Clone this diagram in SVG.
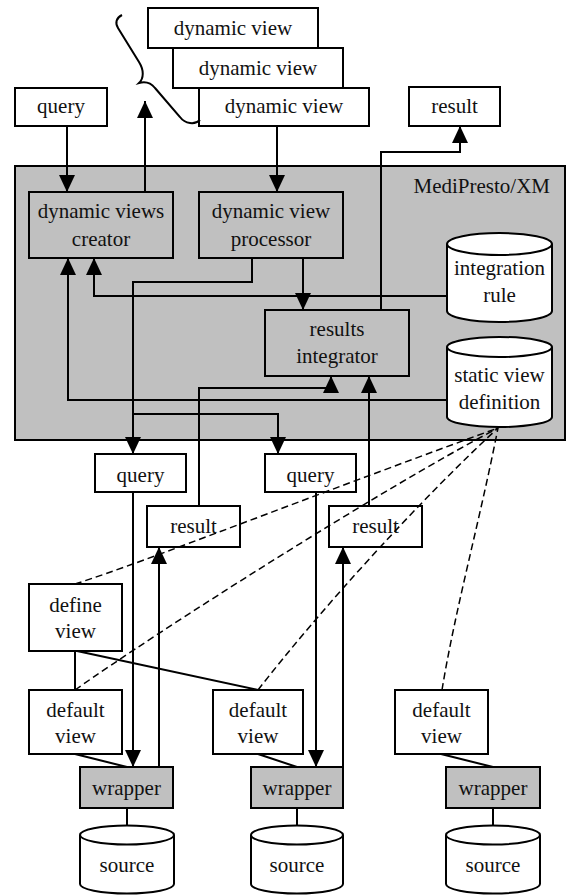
<svg xmlns="http://www.w3.org/2000/svg" width="568" height="895" viewBox="0 0 568 895">
<defs>
<marker id="ah" viewBox="0 0 17 16" refX="17" refY="8" markerWidth="17" markerHeight="16" markerUnits="userSpaceOnUse" orient="auto">
<path d="M0,0 L17,8 L0,16 z" fill="#000"/>
</marker>
</defs>
<style>
.box{fill:#fff;stroke:#000;stroke-width:2}
.gbox{fill:#c0c0c0;stroke:#000;stroke-width:2}
.t{font-family:"Liberation Serif","Times New Roman",serif;font-size:21px;fill:#111;text-anchor:middle}
.ln{fill:none;stroke:#000;stroke-width:2}
.arr{marker-end:url(#ah)}
.dash{fill:none;stroke:#000;stroke-width:1.5;stroke-dasharray:7 4}
</style>
<rect width="568" height="895" fill="#fff"/>

<g id="medipresto">
<rect class="gbox" x="15" y="166" width="550" height="274"/>
<text class="t" x="550" y="193" style="text-anchor:end">MediPresto/XM</text>
</g>

<g id="dv1"><rect class="box" x="148" y="8" width="170" height="40"/><text class="t" x="233" y="35">dynamic view</text></g>
<g id="dv2"><rect class="box" x="173" y="48" width="170" height="40"/><text class="t" x="258" y="75">dynamic view</text></g>
<g id="dv3"><rect class="box" x="199" y="88" width="170" height="38"/><text class="t" x="284" y="113">dynamic view</text></g>

<g id="query-top"><rect class="box" x="15" y="88" width="92" height="38"/><text class="t" x="61" y="113">query</text></g>
<g id="result-top"><rect class="box" x="409" y="87" width="91" height="39"/><text class="t" x="454.5" y="113">result</text></g>

<g id="creator"><rect class="gbox" x="29" y="192" width="144" height="66"/><text class="t" x="101" y="218">dynamic views</text><text class="t" x="101" y="246">creator</text></g>
<g id="processor"><rect class="gbox" x="199" y="192" width="144" height="66"/><text class="t" x="271" y="218">dynamic view</text><text class="t" x="271" y="246">processor</text></g>
<g id="integrator"><rect class="gbox" x="265" y="310" width="144" height="66"/><text class="t" x="337" y="336">results</text><text class="t" x="337" y="363">integrator</text></g>

<g id="integration-rule">
<path class="box" d="M447,244 L447,311 A52.5,11 0 0 0 552,311 L552,244"/>
<ellipse class="box" cx="499.5" cy="244" rx="52.5" ry="11"/>
<text class="t" x="499.5" y="275">integration</text><text class="t" x="499.5" y="302">rule</text>
</g>
<g id="static-view">
<path class="box" d="M447,347 L447,417 A52.5,10 0 0 0 552,417 L552,347"/>
<ellipse class="box" cx="499.5" cy="347" rx="52.5" ry="10"/>
<text class="t" x="499.5" y="382">static view</text><text class="t" x="499.5" y="409">definition</text>
</g>

<g id="query1"><rect class="box" x="95" y="454" width="91" height="38"/><text class="t" x="140.5" y="482">query</text></g>
<g id="query2"><rect class="box" x="265" y="454" width="91" height="38"/><text class="t" x="310.5" y="482">query</text></g>
<g id="result1"><rect class="box" x="147" y="506" width="93" height="41"/><text class="t" x="193.5" y="533">result</text></g>
<g id="result2"><rect class="box" x="329" y="506" width="93" height="41"/><text class="t" x="375.5" y="533">result</text></g>

<g id="define-view"><rect class="box" x="29" y="584" width="93" height="67"/><text class="t" x="75.5" y="612">define</text><text class="t" x="75.5" y="638">view</text></g>
<g id="default1"><rect class="box" x="29" y="690" width="93" height="64"/><text class="t" x="75.5" y="717">default</text><text class="t" x="75.5" y="743">view</text></g>
<g id="default2"><rect class="box" x="213" y="690" width="90" height="64"/><text class="t" x="258" y="717">default</text><text class="t" x="258" y="743">view</text></g>
<g id="default3"><rect class="box" x="395" y="690" width="93" height="64"/><text class="t" x="441.5" y="717">default</text><text class="t" x="441.5" y="743">view</text></g>

<g id="wrapper1"><rect class="gbox" x="80" y="767" width="93" height="41"/><text class="t" x="126.5" y="795">wrapper</text></g>
<g id="wrapper2"><rect class="gbox" x="251" y="767" width="92" height="41"/><text class="t" x="297" y="795">wrapper</text></g>
<g id="wrapper3"><rect class="gbox" x="446" y="767" width="94" height="41"/><text class="t" x="493" y="795">wrapper</text></g>

<g id="source1"><path class="box" d="M80,835 L80,884 A47,9.5 0 0 0 174,884 L174,835"/><ellipse class="box" cx="127" cy="835" rx="47" ry="9.5"/><text class="t" x="127" y="872">source</text></g>
<g id="source2"><path class="box" d="M251,835 L251,884 A46,9.5 0 0 0 343,884 L343,835"/><ellipse class="box" cx="297" cy="835" rx="46" ry="9.5"/><text class="t" x="297" y="872">source</text></g>
<g id="source3"><path class="box" d="M446,835 L446,884 A47,9.5 0 0 0 540,884 L540,835"/><ellipse class="box" cx="493" cy="835" rx="47" ry="9.5"/><text class="t" x="493" y="872">source</text></g>

<g id="connectors">
<path class="ln" d="M122,15 C116,18 115,23 118,28 L139,62 C144,70 144,78 139,83 C146,81 151,83 155,88 L180,117 C185,124 195,125 200,120"/>
<path class="ln arr" d="M67,126 L67,192"/>
<path class="ln arr" d="M145,192 L145,101"/>
<path class="ln arr" d="M277,126 L277,192"/>
<path class="ln arr" d="M381,310 L381,152 L460,152 L460,126"/>
<path class="ln arr" d="M303,258 L303,310"/>
<path class="ln arr" d="M447,296 L94,296 L94,258"/>
<path class="ln arr" d="M447,400 L68,400 L68,258"/>
<path class="ln arr" d="M252,258 L252,282 L133,282 L133,454"/>
<path class="ln arr" d="M133,414 L278,414 L278,454"/>
<path class="ln arr" d="M199,506 L199,388 L331,388 L331,376"/>
<path class="ln arr" d="M369,506 L369,376"/>
<path class="ln arr" d="M133,492 L133,767"/>
<path class="ln arr" d="M159,767 L159,547"/>
<path class="ln arr" d="M316,492 L316,767"/>
<path class="ln arr" d="M343,767 L343,547"/>
<path class="ln" d="M75,651 L75,690 M77,651 L258,690"/>
<path class="ln" d="M75,754 L127,767 M258,754 L297,767 M441,754 L493,767"/>
<path class="ln" d="M127,808 L127,826 M297,808 L297,826 M493,808 L493,826"/>
<path class="dash" d="M75,584 C150,560 300,500 498,428"/>
<path class="dash" d="M75,690 C160,630 380,490 498,428"/>
<path class="dash" d="M258,690 C320,610 420,500 498,428"/>
<path class="dash" d="M442,690 C455,610 480,520 498,428"/>
</g>
</svg>
